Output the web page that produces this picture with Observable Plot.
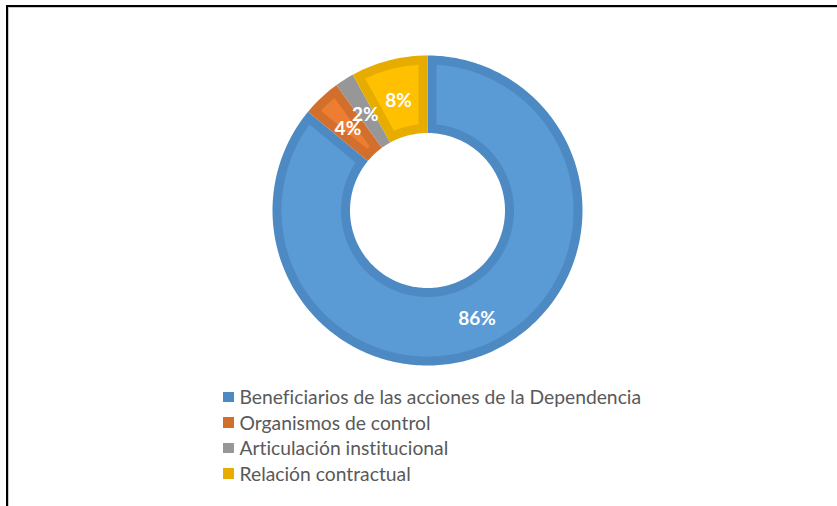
<!DOCTYPE html>
<html><head><meta charset="utf-8">
<script src="https://cdn.jsdelivr.net/npm/d3@7"></script>
<script src="https://cdn.jsdelivr.net/npm/@observablehq/plot@0.6"></script>
<style>
html,body{margin:0;padding:0;background:#fff;}
#wrap{position:relative;width:837px;height:506px;overflow:hidden;font-family:Lato,"Open Sans",sans-serif;}
#frame{position:absolute;left:6px;top:5px;width:900px;height:600px;border-top:2px solid #000;border-left:2px solid #000;box-shadow:inset 1px 1px 0 #c8c8c8;}
#chart{position:absolute;left:0;top:0;}
#legend{position:absolute;left:223px;top:384px;color:#595959;font-size:19.3px;font-variant-ligatures:none;}
.item{display:flex;align-items:center;height:25.5px;white-space:nowrap;}
.sw{width:10.5px;height:10.5px;margin-right:6px;flex:none;}
</style></head><body>
<div id="wrap"><div id="frame"></div><div id="chart"></div><div id="legend"></div></div>
<script>
const categories = ["Beneficiarios de las acciones de la Dependencia","Organismos de control","Articulación institucional","Relación contractual"];
const values = [86, 4, 2, 8];
const labels = ["86%", "4%", "2%", "8%"];
const fillPalette = ["#5B9BD5", "#ED7D31", "#A5A5A5", "#FFC000"];
const edgePalette = ["#4D8AC3", "#D36F2C", "#979797", "#E6AC00"];

const R = 155, cx = 427, cy = 210;
const innerRatio = 0.5;
const inset = 9 / R;

const arcs = d3.pie().sort(null).value(d => d)(values);

function ring(a0, a1, ro, ri, d, key, color) {
  const pts = [];
  const rO = ro - d, rI = ri + d;
  const half = (a1 - a0) / 2;
  const rStar = d > 0 ? d / Math.sin(Math.min(half, Math.PI / 2)) : 0;
  if (rStar >= rO) return pts;
  const o0 = a0 + Math.asin(d / rO), o1 = a1 - Math.asin(d / rO);
  const n = Math.max(2, Math.ceil((o1 - o0) * 180 / Math.PI));
  for (let i = 0; i <= n; i++) {
    const a = o0 + (o1 - o0) * i / n;
    pts.push({x: rO * Math.sin(a), y: rO * Math.cos(a), key, color});
  }
  if (rStar > rI) {
    const m = (a0 + a1) / 2;
    pts.push({x: rStar * Math.sin(m), y: rStar * Math.cos(m), key, color});
  } else {
    const i0 = a0 + Math.asin(d / rI), i1 = a1 - Math.asin(d / rI);
    for (let i = n; i >= 0; i--) {
      const a = i0 + (i1 - i0) * i / n;
      pts.push({x: rI * Math.sin(a), y: rI * Math.cos(a), key, color});
    }
  }
  return pts;
}

const darkPts = arcs.flatMap((a, i) => ring(a.startAngle, a.endAngle, 1, innerRatio, 0, categories[i], edgePalette[i]));
const lightPts = arcs.flatMap((a, i) => ring(a.startAngle, a.endAngle, 1, innerRatio, inset, categories[i], fillPalette[i]));
const labelData = arcs.map((a, i) => {
  const m = (a.startAngle + a.endAngle) / 2, r = (1 + innerRatio) / 2;
  return {x: r * Math.sin(m), y: r * Math.cos(m), text: labels[i]};
});

const chart = Plot.plot({
  width: 837, height: 380, margin: 0,
  style: {background: "transparent", overflow: "visible"},
  x: {domain: [-1, 1], range: [cx - R, cx + R], axis: null},
  y: {domain: [-1, 1], range: [cy + R, cy - R], axis: null},
  color: {type: "identity"},
  marks: [
    Plot.line(darkPts, {x: "x", y: "y", z: "key", fill: "color", stroke: "none", curve: "linear-closed"}),
    Plot.line(lightPts, {x: "x", y: "y", z: "key", fill: "color", stroke: "none", curve: "linear-closed"}),
    Plot.text(labelData, {x: "x", y: "y", text: "text", fill: "white", fontWeight: "bold", fontSize: 19, fontFamily: "Lato, 'Open Sans', sans-serif", dy: 3})
  ]
});
document.getElementById("chart").appendChild(chart);

const legend = document.getElementById("legend");
categories.forEach((c, i) => {
  const row = document.createElement("div");
  row.className = "item";
  const sw = document.createElement("span");
  sw.className = "sw";
  sw.style.background = edgePalette[i];
  const t = document.createElement("span");
  t.textContent = c;
  row.appendChild(sw); row.appendChild(t);
  legend.appendChild(row);
});
</script>
</body></html>
